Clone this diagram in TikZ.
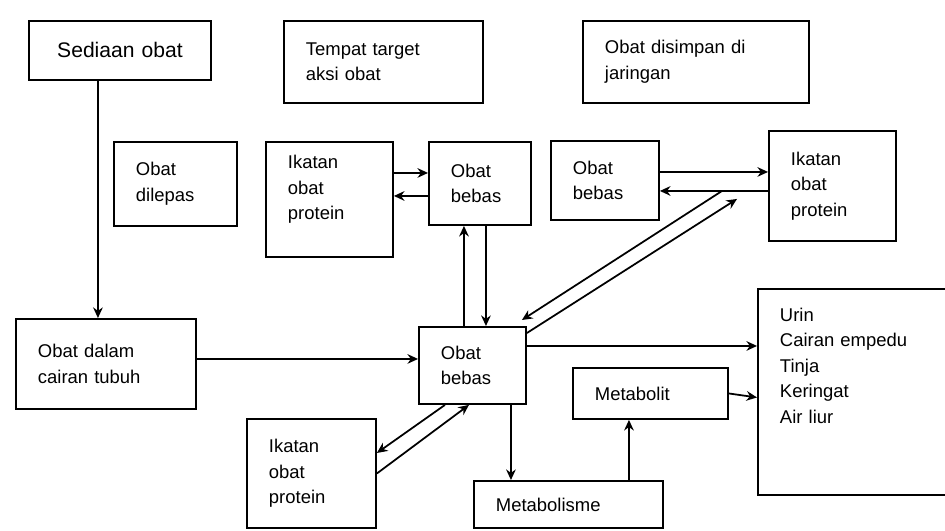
\documentclass[tikz,border=0pt]{standalone}
\usepackage{fontspec}
\setmainfont{Liberation Sans}
\usetikzlibrary{arrows.meta}

\begin{document}
\begin{tikzpicture}[>={Stealth[length=6pt, width=5.5pt]}, x = 0.02cm, y = -0.02cm,
    kotak/.style = {draw = black, line width = 1.1pt, anchor = north west, align = left, inner xsep = 0.44cm, inner ysep = 0.1cm, font = \fontsize{10.5}{14.5}\selectfont},
    panah/.style = {->, line width = 1pt}]
    \useasboundingbox (0, 0) rectangle (945, 530);
    \clip (0, 0) rectangle (945, 530);

    \node [kotak, align = center, text width = 2.76cm, minimum height = 1.18cm, font = \fontsize{12}{14}\selectfont] (sediaan) at (28, 20) {Sediaan obat};
    \node [kotak, text width = 3.10cm, minimum height = 1.64cm] (target) at (283, 20) {Tempat target\\aksi obat};
    \node [kotak, text width = 3.64cm, minimum height = 1.64cm] (simpan) at (582, 20) {Obat disimpan di\\jaringan};

    \node [kotak, text width = 1.58cm, minimum height = 1.68cm] (lepas) at (113, 141) {Obat\\dilepas};
    \node [kotak, text width = 1.66cm, minimum height = 2.30cm, text depth = 1.5cm] (ikatanA) at (265, 141) {Ikatan\\obat\\protein};
    \node [kotak, text width = 1.16cm, minimum height = 1.66cm] (bebasA) at (428, 141) {Obat\\bebas};
    \node [kotak, text width = 1.28cm, minimum height = 1.58cm] (bebasB) at (550, 140) {Obat\\bebas};
    \node [kotak, text width = 1.66cm, minimum height = 2.20cm] (ikatanB) at (768, 130) {Ikatan\\obat\\protein};

    \node [kotak, text width = 2.72cm, minimum height = 1.80cm] (cairan) at (15, 318) {Obat dalam\\cairan tubuh};
    \node [kotak, text width = 1.26cm, minimum height = 1.54cm] (bebasC) at (418, 326) {Obat\\bebas};
    \node [kotak, text width = 2.22cm, minimum height = 1.02cm] (metabolit) at (572, 367) {Metabolit};
    \node [kotak, text width = 3.30cm, minimum height = 4.12cm, text depth = 3.1cm] (ekskresi) at (757, 288) {Urin\\Cairan empedu\\Tinja\\Keringat\\Air liur};
    \node [kotak, text width = 1.70cm, minimum height = 2.18cm] (ikatanC) at (246, 418) {Ikatan\\obat\\protein};
    \node [kotak, text width = 2.90cm, minimum height = 0.94cm] (metabolisme) at (473, 480) {Metabolisme};

    %%%%%%%%%%%%%%%%%%%%
    \draw [panah] ([xshift = -0.44cm]sediaan.south) -- ([xshift = -0.44cm]sediaan.south |- cairan.north);
    \draw [panah] ([yshift = 0.1cm]cairan.east) -- ([yshift = 0.1cm]cairan.east -| bebasC.west);

    \draw [panah] ([yshift = 0.53cm]ikatanA.east) -- ([yshift = 0.53cm]ikatanA.east -| bebasA.west);
    \draw [panah] ([yshift = 0.07cm]ikatanA.east -| bebasA.west) -- ([yshift = 0.07cm]ikatanA.east);
    \draw [panah] ([xshift = -0.17cm]bebasC.north) -- ([xshift = -0.17cm]bebasC.north |- bebasA.south);
    \draw [panah] ([xshift = 0.27cm]bebasC.north |- bebasA.south) -- ([xshift = 0.27cm]bebasC.north);

    \draw [panah] ([yshift = 0.17cm]bebasB.east) -- ([yshift = 0.17cm]bebasB.east -| ikatanB.west);
    \draw [panah] ([yshift = -0.21cm]bebasB.east -| ikatanB.west) -- ([yshift = -0.21cm]bebasB.east);

    \coordinate (balik) at ([xshift = -0.92cm, yshift = -0.1cm]ikatanB.west);
    \coordinate (pergi) at ([xshift = -0.62cm, yshift = -0.26cm]ikatanB.west);
    \draw [panah] (balik) -- ([xshift = -0.1cm, yshift = 0.12cm]bebasC.north east);
    \draw [panah] ([yshift = -0.14cm]bebasC.north east) -- (pergi);

    %%%%%%%%%%%%%%%%%%%%
    \draw [panah] ([yshift = 0.39cm]bebasC.east) -- ([yshift = 0.39cm]bebasC.east -| ekskresi.west);
    \draw [panah] (metabolit.east) -- ([yshift = -0.08cm]metabolit.east -| ekskresi.west);
    \draw [panah] ([xshift = 0.77cm]bebasC.south) -- ([xshift = 0.77cm]bebasC.south |- metabolisme.north);
    \draw [panah] ([xshift = -0.43cm]metabolit.south |- metabolisme.north) -- ([xshift = -0.43cm]metabolit.south);

    \draw [panah] ([xshift = -0.55cm]bebasC.south) -- ([yshift = 0.41cm]ikatanC.east);
    \draw [panah] (ikatanC.east) -- ([xshift = -0.07cm]bebasC.south);
\end{tikzpicture}
\end{document}
